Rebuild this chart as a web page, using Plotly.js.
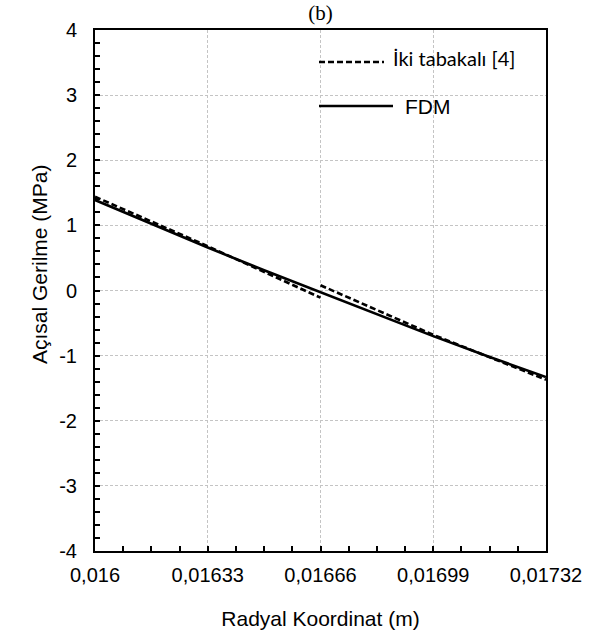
<!DOCTYPE html>
<html>
<head>
<meta charset="utf-8">
<script src="https://cdn.plot.ly/plotly-3.0.1.min.js"></script>
<style>html,body{margin:0;padding:0;background:#fff;}</style>
</head>
<body>
<div id="chart" style="width:610px;height:642px;"></div>
<script>
// Radial coordinate (m)
const radius = [0.016, 0.016165, 0.01633, 0.016495, 0.01666, 0.016825, 0.01699, 0.017155, 0.01732];
// FDM hoop stress (MPa)
const fdmStress = [1.39, 1.02, 0.66, 0.31, -0.03, -0.37, -0.70, -1.02, -1.33];
// Two-layer solution [4] – two segments, break at interface r = 0.01666
const twoLayerR = [0.016, 0.01633, 0.01666, null, 0.01666, 0.01699, 0.01732];
const twoLayerStress = [1.44, 0.68, -0.11, null, 0.08, -0.68, -1.37];

const xTickVals = [0.016, 0.01633, 0.01666, 0.01699, 0.01732];
const xTickText = ["0,016", "0,01633", "0,01666", "0,01699", "0,01732"];
const yTickVals = [4, 3, 2, 1, 0, -1, -2, -3, -4];
const yTickText = ["4", "3", "2", "1", "0", "-1", "-2", "-3", "-4"];

const seriesNames = ["İki tabakalı [4]", "FDM"];

const W = 610, H = 642;
const mL = 95, mR = 64, mT = 30, mB = 91;
const pw = W - mL - mR, ph = H - mT - mB;
const px = x => (x - mL) / pw;
const py = y => (H - mB - y) / ph;

const traces = [
  {
    x: twoLayerR, y: twoLayerStress, mode: 'lines', name: seriesNames[0],
    connectgaps: false,
    line: {color: '#000', width: 2.6, dash: '6px,3px'},
    showlegend: false, hoverinfo: 'skip'
  },
  {
    x: radius, y: fdmStress, mode: 'lines', name: seriesNames[1],
    line: {color: '#000', width: 2.6},
    showlegend: false, hoverinfo: 'skip'
  }
];

const axisFont = {family: 'Liberation Sans, Arial, sans-serif', size: 20, color: '#000'};
const titleFont = {family: 'Liberation Sans, Arial, sans-serif', size: 21, color: '#000'};

const layout = {
  width: W, height: H,
  margin: {l: mL, r: mR, t: mT, b: mB, pad: 0},
  paper_bgcolor: '#fff', plot_bgcolor: '#fff',
  showlegend: false,
  title: {
    text: '(b)', x: 0.5, xref: 'paper', y: 1 - 13 / H, yref: 'container', yanchor: 'middle',
    font: {family: 'Liberation Serif, Times New Roman, serif', size: 21, color: '#000'}
  },
  xaxis: {
    range: [0.016, 0.01732], tickmode: 'array', tickvals: xTickVals, ticktext: xTickText,
    ticks: 'inside', ticklen: 5, tickwidth: 2, tickcolor: '#000',
    minor: {dtick: 0.0000825, tick0: 0.016, ticks: 'inside', ticklen: 5, tickwidth: 2, tickcolor: '#000', showgrid: false},
    showline: true, linecolor: '#000', linewidth: 2, mirror: true,
    showgrid: true, gridcolor: '#c4c4c4', gridwidth: 1, griddash: '3px,2px',
    zeroline: false, tickfont: axisFont, ticklabelstandoff: 5,
    title: {text: 'Radyal Koordinat (m)', font: titleFont, standoff: 26}
  },
  yaxis: {
    range: [-4, 4], tickmode: 'array', tickvals: yTickVals, ticktext: yTickText,
    ticks: 'inside', ticklen: 5, tickwidth: 2, tickcolor: '#000',
    minor: {dtick: 0.2, tick0: 0, ticks: 'inside', ticklen: 5, tickwidth: 2, tickcolor: '#000', showgrid: false},
    showline: true, linecolor: '#000', linewidth: 2, mirror: true,
    showgrid: true, gridcolor: '#c4c4c4', gridwidth: 1, griddash: '3px,2px',
    zeroline: false, tickfont: axisFont, ticklabelstandoff: 12
  },
  shapes: [
    {type: 'line', xref: 'paper', yref: 'paper', x0: px(319), x1: px(384), y0: py(62), y1: py(62),
     line: {color: '#000', width: 2.6, dash: '6px,3px'}},
    {type: 'line', xref: 'paper', yref: 'paper', x0: px(319), x1: px(393), y0: py(106), y1: py(106),
     line: {color: '#000', width: 2.6}}
  ],
  annotations: [
    {text: seriesNames[0], xref: 'paper', yref: 'paper', x: px(391), y: py(58), xanchor: 'left', yanchor: 'middle',
     showarrow: false, font: {family: 'Lato, sans-serif', size: 20, color: '#000'}},
    {text: seriesNames[1], xref: 'paper', yref: 'paper', x: px(403), y: py(106), xanchor: 'left', yanchor: 'middle',
     showarrow: false, font: {family: 'Liberation Sans, Arial, sans-serif', size: 21, color: '#000'}},
    {text: 'Açısal Gerilme (MPa)', xref: 'paper', yref: 'paper', x: px(39), y: py(264), xanchor: 'center', yanchor: 'middle',
     textangle: -90, showarrow: false, font: titleFont}
  ]
};

Plotly.newPlot('chart', traces, layout, {staticPlot: true, displayModeBar: false});
</script>
</body>
</html>
